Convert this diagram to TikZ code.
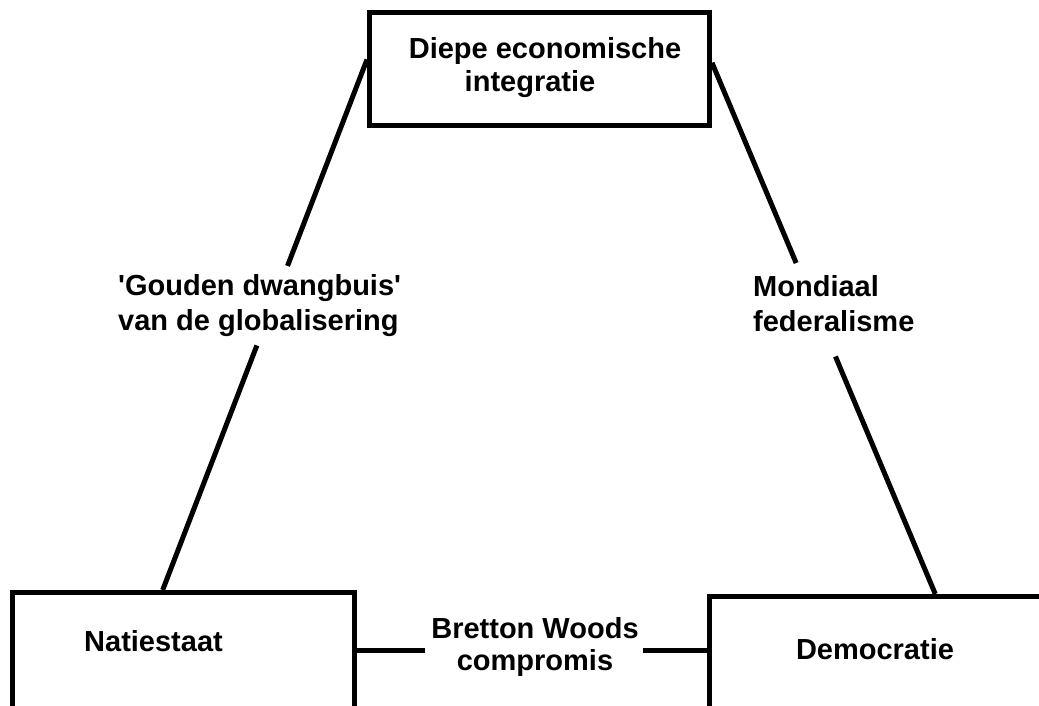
\documentclass[tikz,border=0pt]{standalone}
\usepackage{fontspec}
\setmainfont{Liberation Sans}
\usetikzlibrary{calc}
\begin{document}
\begin{tikzpicture}[x=1pt,y=-1pt,
  box/.style={draw, line width=5pt, inner sep=0pt, rectangle},
  conn/.style={line width=5pt},
  lbl/.style={font=\bfseries\fontsize{29}{35}\selectfont, inner sep=0pt}]
\useasboundingbox (0,0) rectangle (1039,706);
\clip (0,0) rectangle (1039,706);
% boxes
\node[box, minimum width=340pt, minimum height=113pt] (top) at (539.5,69) {};
\node[box, minimum width=342pt, minimum height=125pt] (nat) at (183.5,655) {};
\node[box, minimum width=350pt, minimum height=125pt] (dem) at (884.5,659) {};
% texts
\node[lbl, align=center] (topT) at (545,68) {Diepe economische\\[-2pt]integratie\hspace*{30pt}};
\node[lbl] (natT) at (153.5,641.6) {Natiestaat};
\node[lbl] (demT) at (875,649.6) {Democratie};
\node[lbl, align=left, anchor=west] (gL) at (118,306) {\textquotesingle Gouden dwangbuis\textquotesingle\\van de globalisering};
\node[lbl, align=left, anchor=west] (mR) at (753,304) {Mondiaal\\federalisme};
\node[lbl, align=center] (bw) at (535,646.5) {Bretton Woods\\[-3pt]compromis};
% connector end points
\coordinate (tA) at ($(top.north west)!0.42!(top.south west)$);
\coordinate (nB) at ($(nat.north west)!0.44!(nat.north east)$);
\coordinate (tB) at ($(top.north east)!0.447!(top.south east)$);
\coordinate (dA) at ($(dem.north west)!0.643!(dem.north east)$);
\coordinate (bL) at ([yshift=5pt]nat.east);
\coordinate (bR) at (dem.west |- bL);
\coordinate (lg1) at ($(tA)!0.389!(nB)$);
\coordinate (lg2) at ($(tA)!0.539!(nB)$);
\coordinate (rg1) at ($(tB)!0.377!(dA)$);
\coordinate (rg2) at ($(tB)!0.553!(dA)$);
\coordinate (bg1) at ($(bL)!0.193!(bR)$);
\coordinate (bg2) at ($(bL)!0.818!(bR)$);
% connectors
\draw[conn] (tA) -- (lg1) (lg2) -- (nB);
\draw[conn] (tB) -- (rg1) (rg2) -- (dA);
\draw[conn] (bL) -- (bg1) (bg2) -- (bR);
\end{tikzpicture}
\end{document}
